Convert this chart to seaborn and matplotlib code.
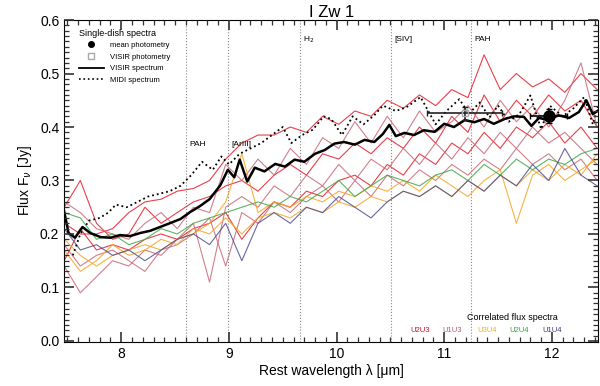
import matplotlib
matplotlib.use('Agg')
import matplotlib.pyplot as plt
from matplotlib.lines import Line2D
from matplotlib.ticker import MultipleLocator, FormatStrFormatter
import seaborn as sns

# correlated flux spectra (MIDI, several baselines)
wl_corr = [7.47, 7.62, 7.77, 7.92, 8.07, 8.22, 8.37, 8.52, 8.67, 8.82, 8.97, 9.12,
           9.27, 9.42, 9.57, 9.72, 9.87, 10.02, 10.17, 10.32, 10.47, 10.62, 10.77,
           10.92, 11.07, 11.22, 11.37, 11.52, 11.67, 11.82, 11.97, 12.12, 12.27, 12.42]

u2u3_a = [0.22, 0.20, 0.20, 0.21, 0.24, 0.26, 0.265, 0.28, 0.285, 0.30, 0.34, 0.37,
          0.385, 0.385, 0.40, 0.39, 0.42, 0.405, 0.43, 0.42, 0.45, 0.435, 0.46,
          0.44, 0.47, 0.455, 0.535, 0.47, 0.50, 0.475, 0.49, 0.465, 0.50, 0.47]
u2u3_b = [0.25, 0.30, 0.22, 0.19, 0.20, 0.25, 0.22, 0.24, 0.26, 0.27, 0.29, 0.30,
          0.28, 0.31, 0.33, 0.31, 0.35, 0.34, 0.37, 0.35, 0.38, 0.36, 0.40,
          0.37, 0.42, 0.39, 0.46, 0.41, 0.45, 0.42, 0.46, 0.43, 0.45, 0.40]
u2u3_c = [0.15, 0.21, 0.17, 0.18, 0.17, 0.19, 0.20, 0.19, 0.21, 0.22, 0.24, 0.19,
          0.23, 0.26, 0.25, 0.28, 0.27, 0.30, 0.31, 0.29, 0.33, 0.31, 0.35,
          0.33, 0.37, 0.35, 0.39, 0.36, 0.40, 0.38, 0.41, 0.37, 0.40, 0.36]
u1u3_a = [0.26, 0.24, 0.21, 0.20, 0.19, 0.22, 0.24, 0.21, 0.25, 0.24, 0.33, 0.30,
          0.34, 0.31, 0.36, 0.33, 0.38, 0.36, 0.41, 0.37, 0.42, 0.38, 0.43,
          0.39, 0.41, 0.44, 0.40, 0.45, 0.41, 0.44, 0.40, 0.45, 0.52, 0.40]
u1u3_b = [0.14, 0.09, 0.12, 0.15, 0.14, 0.17, 0.16, 0.19, 0.22, 0.11, 0.25, 0.27,
          0.25, 0.29, 0.27, 0.31, 0.29, 0.33, 0.30, 0.34, 0.32, 0.36, 0.33,
          0.37, 0.34, 0.38, 0.35, 0.39, 0.36, 0.40, 0.37, 0.39, 0.36, 0.33]
u1u3_c = [0.18, 0.14, 0.16, 0.17, 0.15, 0.13, 0.17, 0.18, 0.20, 0.23, 0.14, 0.24,
          0.22, 0.26, 0.24, 0.27, 0.29, 0.26, 0.30, 0.27, 0.31, 0.29, 0.32,
          0.30, 0.33, 0.31, 0.34, 0.32, 0.36, 0.33, 0.35, 0.32, 0.34, 0.30]
u3u4_a = [0.19, 0.16, 0.14, 0.16, 0.17, 0.18, 0.17, 0.19, 0.20, 0.22, 0.26, 0.35,
          0.24, 0.26, 0.25, 0.27, 0.26, 0.28, 0.27, 0.29, 0.28, 0.30, 0.28,
          0.31, 0.29, 0.27, 0.30, 0.32, 0.22, 0.31, 0.33, 0.30, 0.32, 0.34]
u3u4_b = [0.17, 0.13, 0.15, 0.18, 0.16, 0.17, 0.19, 0.18, 0.21, 0.20, 0.23, 0.20,
          0.23, 0.24, 0.23, 0.25, 0.24, 0.26, 0.25, 0.27, 0.26, 0.28, 0.27,
          0.29, 0.27, 0.30, 0.28, 0.31, 0.29, 0.32, 0.30, 0.33, 0.31, 0.35]
u2u4 = [0.24, 0.23, 0.19, 0.20, 0.18, 0.19, 0.21, 0.20, 0.22, 0.23, 0.24, 0.25,
        0.26, 0.25, 0.27, 0.26, 0.28, 0.30, 0.27, 0.29, 0.31, 0.30, 0.29,
        0.31, 0.32, 0.30, 0.33, 0.31, 0.34, 0.32, 0.34, 0.33, 0.35, 0.36]
u1u4 = [0.21, 0.17, 0.18, 0.16, 0.17, 0.15, 0.17, 0.19, 0.20, 0.18, 0.22, 0.15,
        0.22, 0.24, 0.22, 0.25, 0.24, 0.27, 0.25, 0.23, 0.26, 0.28, 0.27,
        0.29, 0.27, 0.30, 0.28, 0.31, 0.29, 0.33, 0.30, 0.36, 0.31, 0.29]

# single-dish spectra
wl_visir = [7.46, 7.51, 7.57, 7.64, 7.71, 7.81, 7.90, 7.99, 8.08, 8.18, 8.27, 8.36,
            8.45, 8.55, 8.64, 8.73, 8.82, 8.92, 8.99, 9.05, 9.10, 9.17, 9.24, 9.33,
            9.43, 9.52, 9.61, 9.70, 9.80, 9.89, 9.98, 10.07, 10.17, 10.26, 10.35,
            10.43, 10.49, 10.55, 10.63, 10.72, 10.81, 10.91, 11.00, 11.09, 11.19,
            11.28, 11.37, 11.46, 11.56, 11.65, 11.74, 11.81, 11.88, 11.97, 12.06,
            12.16, 12.25, 12.32, 12.38, 12.43]
flux_visir = [0.252, 0.202, 0.193, 0.213, 0.202, 0.194, 0.193, 0.198, 0.196, 0.202,
              0.206, 0.213, 0.220, 0.228, 0.241, 0.252, 0.265, 0.291, 0.320, 0.306,
              0.339, 0.298, 0.324, 0.317, 0.331, 0.326, 0.339, 0.335, 0.350, 0.357,
              0.369, 0.372, 0.367, 0.376, 0.372, 0.387, 0.404, 0.383, 0.389, 0.385,
              0.394, 0.391, 0.406, 0.400, 0.413, 0.409, 0.415, 0.406, 0.415, 0.420,
              0.419, 0.402, 0.417, 0.413, 0.422, 0.417, 0.428, 0.450, 0.424, 0.431]

wl_midi = [7.55, 7.62, 7.70, 7.80, 7.88, 7.95, 8.05, 8.15, 8.25, 8.35, 8.45, 8.55,
           8.65, 8.75, 8.85, 8.93, 9.00, 9.10, 9.20, 9.30, 9.40, 9.50, 9.58, 9.68,
           9.78, 9.88, 9.95, 10.05, 10.15, 10.25, 10.35, 10.43, 10.55, 10.65, 10.78,
           10.92, 11.02, 11.14, 11.23, 11.33, 11.42, 11.50, 11.60, 11.70, 11.80,
           11.90, 11.98, 12.10, 12.20, 12.30, 12.38, 12.43]
flux_midi = [0.16, 0.20, 0.225, 0.23, 0.24, 0.255, 0.25, 0.26, 0.27, 0.275, 0.28, 0.29,
             0.31, 0.335, 0.32, 0.345, 0.33, 0.35, 0.36, 0.37, 0.385, 0.40, 0.37, 0.385,
             0.395, 0.42, 0.415, 0.385, 0.42, 0.405, 0.422, 0.44, 0.43, 0.437, 0.456,
             0.405, 0.43, 0.452, 0.425, 0.446, 0.418, 0.44, 0.41, 0.425, 0.459,
             0.396, 0.44, 0.42, 0.435, 0.456, 0.405, 0.44]

# photometry: (wavelength, flux, x half-range, flux error)
visir_phot = (11.19, 0.426, 0.35, 0.012)
mean_phot = (11.97, 0.420, 0.17, 0.013)

# emission features
feat_wl = [8.6, 8.99, 9.66, 10.51, 11.25]
feat_names = ['PAH', '[ArIII]', 'H$_2$', '[SIV]', 'PAH']

baselines = ['U2U3', 'U1U3', 'U3U4', 'U2U4', 'U1U4']
base_colors = ['#e3202c', '#c86a7a', '#f5a623', '#3fa944', '#4e4e8e']
label_colors = ['#c8102e', '#b06070', '#e8b422', '#3a9c3e', '#3c3c7c']

plt.rcParams['font.family'] = ['Liberation Sans', 'DejaVu Sans']
plt.rcParams.update({
    'xtick.direction': 'in', 'ytick.direction': 'in',
    'xtick.top': True, 'ytick.right': True,
    'xtick.major.size': 7, 'ytick.major.size': 7,
    'xtick.minor.size': 3.5, 'ytick.minor.size': 3.5,
    'xtick.major.width': 1.2, 'ytick.major.width': 1.2,
    'xtick.minor.width': 0.9, 'ytick.minor.width': 0.9,
    'xtick.color': '#333333', 'ytick.color': '#333333',
    'xtick.labelcolor': 'black', 'ytick.labelcolor': 'black',
    'axes.axisbelow': False,
})

fig = plt.figure(figsize=(6, 3.86), dpi=100)
ax = fig.add_axes([0.107, 0.114, 0.89, 0.834])

corr = [(u2u3_a, 0), (u2u3_b, 0), (u2u3_c, 0), (u1u3_a, 1), (u1u3_b, 1), (u1u3_c, 1),
        (u3u4_a, 2), (u3u4_b, 2), (u2u4, 3), (u1u4, 4)]
for flux, i in corr:
    sns.lineplot(x=wl_corr, y=flux, ax=ax, color=base_colors[i], lw=0.8,
                 alpha=0.85, estimator=None, sort=False, legend=False)

sns.lineplot(x=wl_midi, y=flux_midi, ax=ax, color='black', lw=1.3, linestyle=':',
             estimator=None, sort=False, legend=False)
sns.lineplot(x=wl_visir, y=flux_visir, ax=ax, color='black', lw=1.8,
             estimator=None, sort=False, legend=False)

ax.errorbar(visir_phot[0], visir_phot[1], xerr=visir_phot[2], yerr=visir_phot[3],
            fmt='s', ms=4, mfc='none', mec='#aaaaaa', ecolor='#222222', elinewidth=1.2,
            capsize=2.5, zorder=5)
ax.errorbar(mean_phot[0], mean_phot[1], xerr=mean_phot[2], yerr=mean_phot[3],
            fmt='o', ms=8, color='black', elinewidth=1.2, capsize=2.5, zorder=6)

for w, name in zip(feat_wl, feat_names):
    ax.axvline(w, color='#888888', lw=0.8, ls=':', zorder=1)
    ypos = 0.368 if w < 9.2 else 0.563
    ax.text(w + 0.03, ypos, name, fontsize=6, ha='left', va='center')

ax.set_title('I Zw 1', fontsize=12, pad=1)
ax.set_xlabel('Rest wavelength λ [μm]', fontsize=10, labelpad=2)
ax.set_ylabel('Flux F$_\\nu$ [Jy]', fontsize=10, labelpad=4)

handles = [
    Line2D([], [], marker='o', color='black', ls='none', ms=4),
    Line2D([], [], marker='s', mfc='none', mec='#aaaaaa', ls='none', ms=4),
    Line2D([], [], color='black', lw=1.3),
    Line2D([], [], color='black', lw=1.2, ls=':'),
]
leg = ax.legend(handles, ['mean photometry', 'VISIR photometry', 'VISIR spectrum',
                          'MIDI spectrum'],
                title='Single-dish spectra', loc='upper left',
                bbox_to_anchor=(0.015, 0.995), frameon=False, fontsize=5.5,
                title_fontsize=6.5, handlelength=3.2, labelspacing=0.55,
                alignment='left')

ax.text(0.84, 0.075, 'Correlated flux spectra', transform=ax.transAxes,
        fontsize=6.5, ha='center', va='center')
label_x = [0.667, 0.727, 0.792, 0.852, 0.913]
for lx, name, c in zip(label_x, baselines, label_colors):
    ax.text(lx, 0.035, name, transform=ax.transAxes, fontsize=5.5, color=c,
            ha='center', va='center')

# axes limits and ticks last, so nothing drawn afterwards resets them
ax.set_xlim(7.47, 12.43)
ax.set_ylim(-0.002, 0.6)
ax.xaxis.set_major_locator(MultipleLocator(1))
ax.xaxis.set_minor_locator(MultipleLocator(0.1))
ax.yaxis.set_major_locator(MultipleLocator(0.1))
ax.yaxis.set_minor_locator(MultipleLocator(0.01))
ax.yaxis.set_major_formatter(FormatStrFormatter('%.1f'))
ax.tick_params(which='both', direction='in', top=True, right=True, bottom=True,
               left=True, colors='#333333', labelcolor='black', labelsize=10)
ax.tick_params(which='major', length=7, width=1.2)
ax.tick_params(which='minor', length=3.5, width=0.9)

fig.savefig('out.png', dpi=100)
